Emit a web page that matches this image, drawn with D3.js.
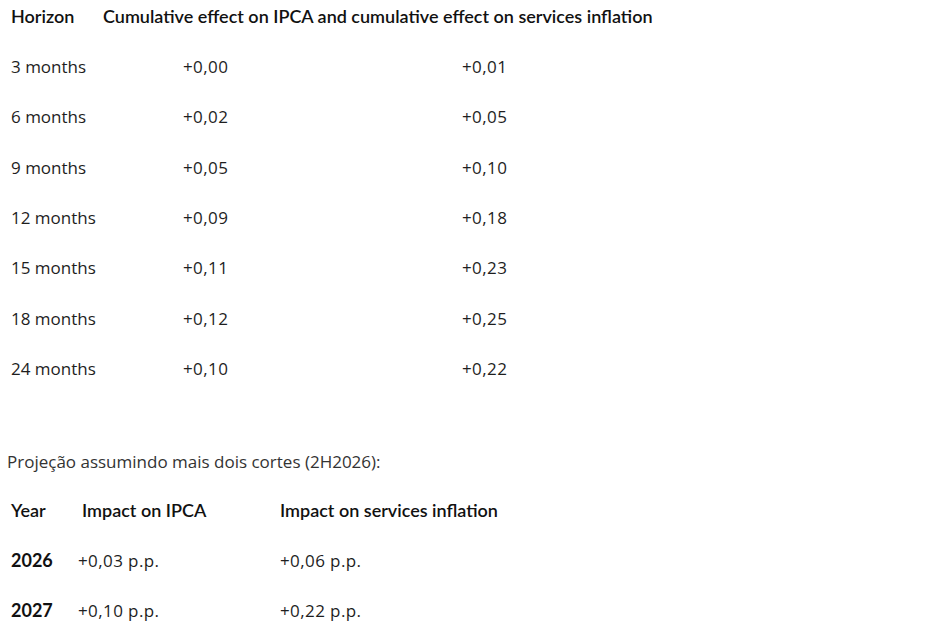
<!DOCTYPE html>
<meta charset='utf-8'>
<head>
    <title>Cumulative effect</title>
    <script src='https://cdn.jsdelivr.net/npm/d3@7/dist/d3.min.js'></script>
</head>

<style>
    body { margin: 0; background: #fff; }
    text.head { font-family: Lato, 'Noto Sans', sans-serif; font-weight: 600; font-size: 18px; fill: #111; }
    text.body { font-family: 'Open Sans', 'Noto Sans', sans-serif; font-size: 17px; fill: #1e1e1e; }
    text.num { letter-spacing: 0.4px; }
    text.year { font-family: Lato, 'Noto Sans', sans-serif; font-weight: 700; font-size: 18px; fill: #111; }
    text.note { font-family: 'Open Sans', 'Noto Sans', sans-serif; font-size: 17px; fill: #333; }
</style>

<svg></svg>

<script>

    // table 1
    var headers1 = ['Horizon', 'Cumulative effect on IPCA and cumulative effect on services inflation'];
    var horizons = ['3 months', '6 months', '9 months', '12 months', '15 months', '18 months', '24 months'];
    var ipcaEffect = [0.00, 0.02, 0.05, 0.09, 0.11, 0.12, 0.10];
    var servicesEffect = [0.01, 0.05, 0.10, 0.18, 0.23, 0.25, 0.22];

    // table 2
    var note = 'Projeção assumindo mais dois cortes (2H2026):';
    var headers2 = ['Year', 'Impact on IPCA', 'Impact on services inflation'];
    var years = ['2026', '2027'];
    var ipcaImpact = [0.03, 0.10];
    var servicesImpact = [0.06, 0.22];

    var vWidth = 947;
    var vHeight = 630;

    var svg = d3.select('svg').attr('width', vWidth).attr('height', vHeight);

    // pt-BR style number: +0,05
    var fmt = function (v) { return '+' + d3.format('.2f')(v).replace('.', ','); };

    // row positions
    var y1 = d3.scalePoint().domain(horizons).range([73, 375]);
    var y2 = d3.scalePoint().domain(years).range([567, 617]);

    // table 1 header
    var g1 = svg.append('g');
    g1.append('text').attr('class', 'head').attr('x', 11).attr('y', 23).text(headers1[0]);
    g1.append('text').attr('class', 'head').attr('x', 103).attr('y', 23).text(headers1[1]);

    var rows1 = g1.selectAll('g.row').data(horizons).enter().append('g')
        .attr('class', 'row')
        .attr('transform', function (d) { return 'translate(0,' + y1(d) + ')'; });

    rows1.append('text').attr('class', 'body').attr('x', 11).text(function (d) { return d; });
    rows1.append('text').attr('class', 'body num').attr('x', 183).text(function (d, i) { return fmt(ipcaEffect[i]); });
    rows1.append('text').attr('class', 'body num').attr('x', 462).text(function (d, i) { return fmt(servicesEffect[i]); });

    // note
    svg.append('text').attr('class', 'note').attr('x', 7).attr('y', 468).text(note);

    // table 2 header
    var g2 = svg.append('g');
    var hx2 = [11, 82, 280];
    g2.selectAll('text.head').data(headers2).enter().append('text')
        .attr('class', 'head')
        .attr('x', function (d, i) { return hx2[i]; })
        .attr('y', 517)
        .text(function (d) { return d; });

    var rows2 = g2.selectAll('g.row').data(years).enter().append('g')
        .attr('class', 'row')
        .attr('transform', function (d) { return 'translate(0,' + y2(d) + ')'; });

    rows2.append('text').attr('class', 'year').attr('x', 11).text(function (d) { return d; });
    rows2.append('text').attr('class', 'body num').attr('x', 78).text(function (d, i) { return fmt(ipcaImpact[i]) + ' p.p.'; });
    rows2.append('text').attr('class', 'body num').attr('x', 280).text(function (d, i) { return fmt(servicesImpact[i]) + ' p.p.'; });
</script>
